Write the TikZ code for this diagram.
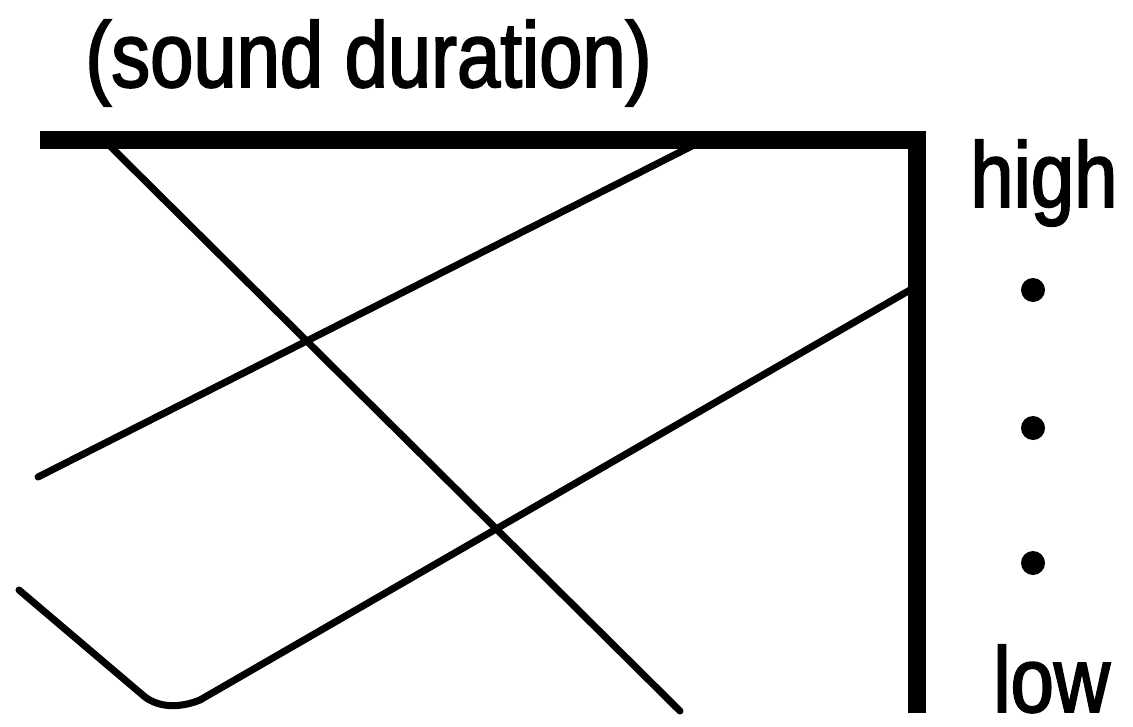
\documentclass[tikz,border=0pt]{standalone}
\usepackage{fontspec}
\setmainfont{Liberation Sans}[FakeStretch=0.84,FakeBold=2]
\begin{document}
\begin{tikzpicture}[x=0.02cm,y=-0.02cm,
  thin line/.style={line width=4pt, line join=round, line cap=round},
  frame line/.style={line width=9.8pt, line join=miter},
  label/.style={inner sep=0pt, anchor=base west, font=\fontsize{52.7}{60}\selectfont},
  dotmark/.style={circle, fill=black, inner sep=0pt, minimum size=24*0.02cm}]
\useasboundingbox (0,0) rectangle (1133,727);
\node[label] (title) at (85,87) {(sound duration)};
\node[label] (high) at (970,207) {high};
\node[label] (low) at (993,712) {low};
\node[dotmark] (d1) at (1033,290) {};
\node[dotmark] (d2) at (1033,428) {};
\node[dotmark] (d3) at (1033,563) {};
\coordinate (tl) at (40,140);
\coordinate (tr) at (917,140);
\coordinate (br) at (917,713);
\draw[frame line] (tl) -- (tr) -- (br);
\coordinate (a1) at (110,146);
\coordinate (a2) at (680,711);
\draw[thin line] (a1) -- (a2);
\coordinate (b1) at (38,477);
\coordinate (b2) at (692,146);
\draw[thin line] (b1) -- (b2);
\coordinate (c1) at (19,590);
\coordinate (c2) at (145,697);
\coordinate (c3) at (200,700);
\coordinate (c4) at (910,290);
\draw[thin line] (c1) -- (c2) .. controls (160,708) and (180,708) .. (c3) -- (c4);
\end{tikzpicture}
\end{document}
